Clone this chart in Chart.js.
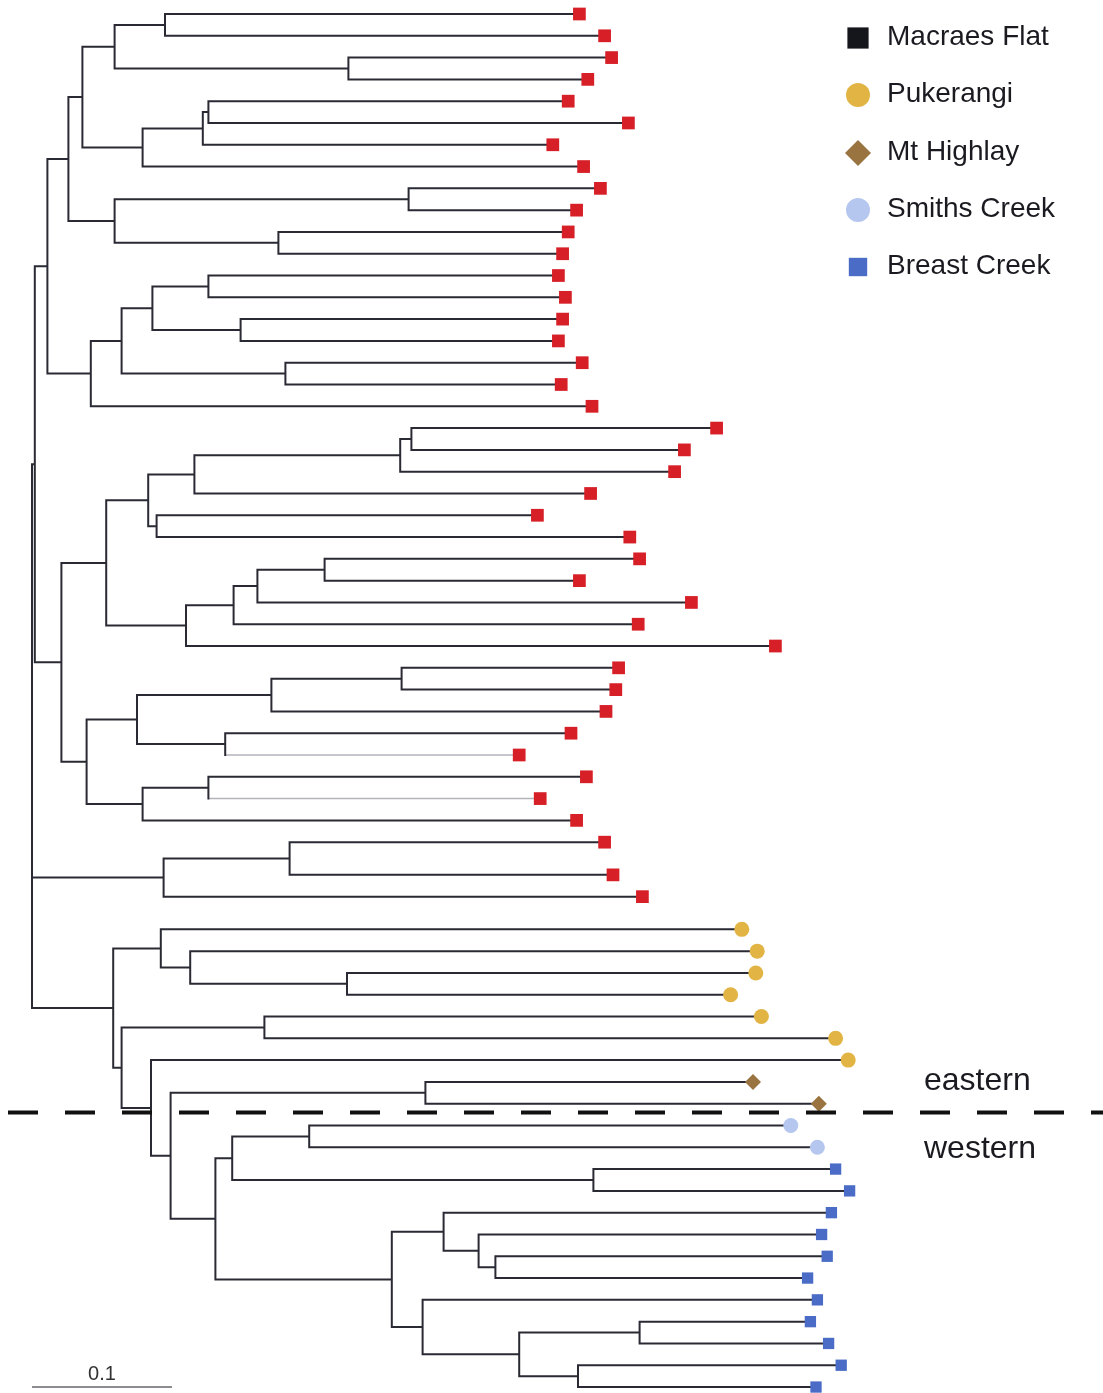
<!DOCTYPE html>
<html>
<head>
<meta charset="utf-8">
<title>Tree</title>
<script src="https://cdn.jsdelivr.net/npm/chart.js@4.4.1/dist/chart.umd.min.js"></script>
<style>
  html, body { margin: 0; padding: 0; background: #fff; }
  #wrap { width: 1103px; height: 1393px; position: relative; }
</style>
</head>
<body>
<div id="wrap"><canvas id="tree"></canvas></div>
<script>
const sites = ['Macraes Flat', 'Pukerangi', 'Mt Highlay', 'Smiths Creek', 'Breast Creek'];

// tips, top to bottom: distance from the root and sampling site
const tipDist = [
  0.391, 0.409, 0.414, 0.397, 0.383, 0.426, 0.372, 0.394, 0.406, 0.389,
  0.383, 0.379, 0.376, 0.381, 0.379, 0.376, 0.393, 0.378, 0.400, 0.489,
  0.466, 0.459, 0.399, 0.361, 0.427, 0.434, 0.391, 0.471, 0.433, 0.531,
  0.419, 0.417, 0.410, 0.385, 0.348, 0.396, 0.363, 0.389, 0.409, 0.415,
  0.436, 0.507, 0.518, 0.517, 0.499, 0.521, 0.574, 0.583, 0.515, 0.562,
  0.542, 0.561, 0.574, 0.584, 0.571, 0.564, 0.568, 0.554, 0.561, 0.556,
  0.569, 0.578, 0.560
];
const tipSite = [
  0, 0, 0, 0, 0, 0, 0, 0, 0, 0,
  0, 0, 0, 0, 0, 0, 0, 0, 0, 0,
  0, 0, 0, 0, 0, 0, 0, 0, 0, 0,
  0, 0, 0, 0, 0, 0, 0, 0, 0, 0,
  0, 1, 1, 1, 1, 1, 1, 1, 2, 2,
  3, 3, 4, 4, 4, 4, 4, 4, 4, 4,
  4, 4, 4
];

// internal nodes: first tip, last tip, distance from the root
const cladeFirst = [0, 2, 0, 4, 4, 4, 0, 8, 10, 8, 0, 12, 14, 12, 16, 12, 12, 0,
  19, 19, 19, 23, 19, 25, 25, 25, 25, 19, 30, 30, 33, 30, 35, 35, 30, 19, 0,
  38, 38, 43, 42, 41, 45, 48, 50, 52, 50, 56, 55, 54, 59, 61, 59, 58, 54, 50, 48, 47, 45, 41, 0];
const cladeLast = [1, 3, 3, 5, 6, 7, 7, 9, 11, 11, 11, 13, 15, 15, 17, 17, 18, 18,
  20, 21, 22, 24, 24, 26, 27, 28, 29, 29, 31, 32, 34, 34, 36, 37, 37, 37, 37,
  39, 40, 44, 44, 44, 46, 49, 51, 53, 53, 57, 57, 57, 60, 62, 62, 62, 62, 62, 62, 62, 62, 62, 62];
const cladeDist = [0.095, 0.226, 0.059, 0.126, 0.122, 0.079, 0.036, 0.269, 0.176, 0.059, 0.026,
  0.126, 0.149, 0.086, 0.181, 0.064, 0.042, 0.011,
  0.271, 0.263, 0.116, 0.089, 0.083, 0.209, 0.161, 0.144, 0.110, 0.053,
  0.264, 0.171, 0.138, 0.075, 0.126, 0.079, 0.039, 0.021, 0.002,
  0.184, 0.094, 0.225, 0.113, 0.092, 0.166, 0.281, 0.198, 0.401, 0.143,
  0.331, 0.319, 0.294, 0.434, 0.390, 0.348, 0.279, 0.257, 0.131, 0.099,
  0.085, 0.064, 0.058, 0.000];

const scaleBar = 0.1;

// ---- layout / style ----
const rowGap = {39: 0.5, 41: 0.5};   // uneven spacing in the figure
const dividerRow = 50.4;
const faintTips = [34, 36];
const siteStyle = [
  {shape: 'rect', r: 9, color: '#d61f27', key: '#15151c', keyR: 15},
  {shape: 'circle', r: 7.5, color: '#e2b443', key: '#e2b443', keyR: 12},
  {shape: 'rectRot', r: 8, color: '#9a7440', key: '#9a7440', keyR: 13},
  {shape: 'circle', r: 7.5, color: '#b5c7ef', key: '#b5c7ef', keyR: 12},
  {shape: 'rect', r: 8, color: '#4a6cc6', key: '#4a6cc6', keyR: 13}
];
const font = "'Liberation Sans', Arial, sans-serif";

const tipRow = [];
let row = 0;
for (let i = 0; i < tipDist.length; i++) {
  row += rowGap[i] || 0;
  tipRow.push(row);
  row++;
}

// work out children of each clade, smallest clades first
const order = cladeFirst.map((_, k) => k)
  .sort((a, b) => (cladeLast[a] - cladeFirst[a]) - (cladeLast[b] - cladeFirst[b]));
const kids = [];
const cladeY = [];
const yOf = c => c.clade !== undefined ? cladeY[c.clade] : tipRow[c.tip];
const distOf = c => c.clade !== undefined ? cladeDist[c.clade] : tipDist[c.tip];

for (const k of order) {
  const list = [];
  let p = cladeFirst[k];
  while (p <= cladeLast[k]) {
    let best = -1;
    for (let j = 0; j < cladeFirst.length; j++) {
      if (j === k || cladeFirst[j] !== p || cladeLast[j] > cladeLast[k]) continue;
      if (cladeFirst[j] === cladeFirst[k] && cladeLast[j] === cladeLast[k]) continue;
      if (best < 0 || cladeLast[j] > cladeLast[best]) best = j;
    }
    if (best >= 0) {
      list.push({clade: best});
      p = cladeLast[best] + 1;
    } else {
      list.push({tip: p});
      p++;
    }
  }
  kids[k] = list;
  cladeY[k] = (yOf(list[0]) + yOf(list[list.length - 1])) / 2;
}

const darkLines = [];
const faintLines = [];
for (const k of order) {
  const list = kids[k];
  darkLines.push({x: cladeDist[k], y: yOf(list[0])}, {x: cladeDist[k], y: yOf(list[list.length - 1])}, {x: NaN, y: NaN});
  list.forEach(c => {
    const target = (c.tip !== undefined && faintTips.includes(c.tip)) ? faintLines : darkLines;
    target.push({x: cladeDist[k], y: yOf(c)}, {x: distOf(c), y: yOf(c)}, {x: NaN, y: NaN});
  });
}

const lastRow = tipRow[tipRow.length - 1];

const tipSets = sites.map((name, s) => ({
  label: name,
  data: tipDist.map((d, i) => tipSite[i] === s ? {x: d, y: tipRow[i]} : null).filter(p => p),
  pointStyle: siteStyle[s].shape,
  pointRadius: siteStyle[s].r,
  backgroundColor: siteStyle[s].color,
  borderWidth: 0,
  order: 0
}));

function drawShape(ctx, shape, x, y, r, color) {
  ctx.fillStyle = color;
  ctx.beginPath();
  if (shape === 'circle') {
    ctx.arc(x, y, r, 0, Math.PI * 2);
  } else if (shape === 'rect') {
    const h = r * Math.SQRT1_2;
    ctx.rect(x - h, y - h, 2 * h, 2 * h);
  } else {
    ctx.moveTo(x, y - r); ctx.lineTo(x + r, y); ctx.lineTo(x, y + r); ctx.lineTo(x - r, y);
    ctx.closePath();
  }
  ctx.fill();
}

const overlay = {
  id: 'overlay',
  afterDatasetsDraw(chart) {
    const ctx = chart.ctx;
    const xs = chart.scales.x, ys = chart.scales.y;
    ctx.save();

    // east / west divider
    const dy = ys.getPixelForValue(dividerRow);
    ctx.strokeStyle = '#111';
    ctx.lineWidth = 4;
    ctx.setLineDash([30, 27]);
    ctx.beginPath();
    ctx.moveTo(8, dy);
    ctx.lineTo(1103, dy);
    ctx.stroke();
    ctx.setLineDash([]);

    ctx.fillStyle = '#1a1a20';
    ctx.textBaseline = 'middle';
    ctx.textAlign = 'left';
    ctx.font = '32px ' + font;
    ctx.fillText('eastern', 924, dy - 31);
    ctx.fillText('western', 924, dy + 37);

    // legend
    const legY = [37, 94, 152, 209, 266];
    sites.forEach((name, s) => {
      drawShape(ctx, siteStyle[s].shape, 858, legY[s] + 1, siteStyle[s].keyR, siteStyle[s].key);
      ctx.fillStyle = '#1a1a20';
      ctx.font = '28px ' + font;
      ctx.fillText(name, 887, legY[s]);
    });

    // scale bar label
    ctx.font = '20px ' + font;
    ctx.textAlign = 'center';
    ctx.fillStyle = '#333';
    ctx.fillText(String(scaleBar), (xs.getPixelForValue(0) + xs.getPixelForValue(scaleBar)) / 2, ys.getPixelForValue(lastRow) - 13);
    ctx.restore();
  }
};

new Chart(document.getElementById('tree'), {
  type: 'scatter',
  data: {
    datasets: tipSets.concat([
      {
        label: 'branches',
        data: darkLines,
        showLine: true,
        pointRadius: 0,
        borderColor: '#2a2a34',
        borderWidth: 2,
        borderCapStyle: 'square',
        spanGaps: false,
        order: 2
      },
      {
        label: 'faint',
        data: faintLines,
        showLine: true,
        pointRadius: 0,
        borderColor: '#b4b4bc',
        borderWidth: 1.5,
        spanGaps: false,
        order: 2
      },
      {
        label: 'scale',
        data: [{x: 0, y: lastRow}, {x: scaleBar, y: lastRow}],
        showLine: true,
        pointRadius: 0,
        borderColor: '#8c8c90',
        borderWidth: 2,
        order: 3
      }
    ])
  },
  options: {
    responsive: true,
    maintainAspectRatio: false,
    animation: false,
    devicePixelRatio: 1,
    events: [],
    layout: { padding: 0, autoPadding: false },
    plugins: {
      legend: { display: false },
      tooltip: { enabled: false }
    },
    scales: {
      x: { type: 'linear', display: false, min: -0.02286, max: 0.76500 },
      y: { type: 'linear', display: false, reverse: true, min: -0.6424, max: 63.274 }
    }
  },
  plugins: [overlay]
});
</script>
</body>
</html>
